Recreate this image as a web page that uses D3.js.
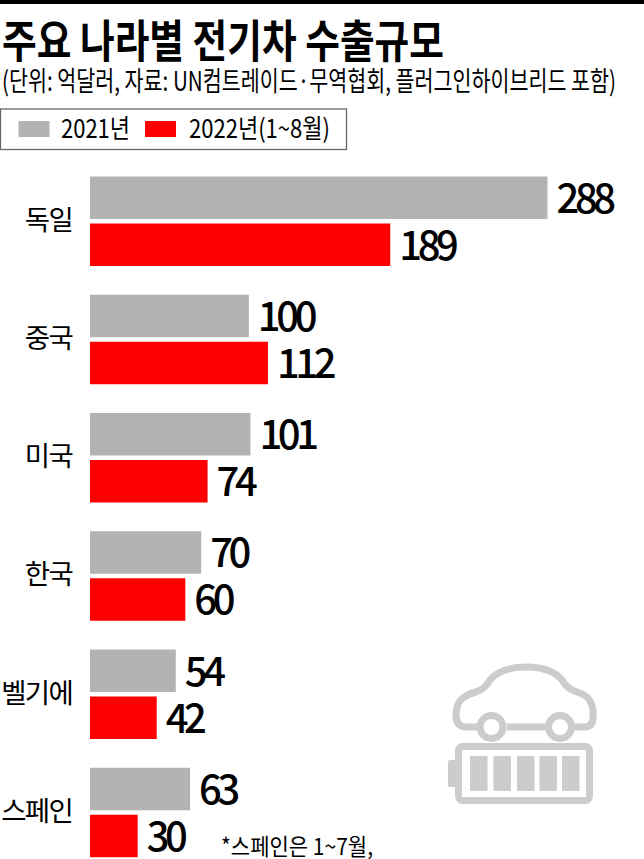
<!DOCTYPE html>
<html><head><meta charset="utf-8">
<style>html,body{margin:0;padding:0;background:#fff}svg{display:block}text{font-family:"Noto Sans CJK KR","Noto Sans",sans-serif;fill:#000}</style>
<script src="https://cdn.jsdelivr.net/npm/d3@7"></script></head><body>
<script>
const categories=["독일","중국","미국","한국","벨기에","스페인"];
const series2021=[288,100,101,70,54,63];
const series2022=[189,112,74,60,42,30];
const seriesNames=["2021년","2022년(1~8월)"];
const colors=["#b3b3b3","#ff0000"];
const title="주요 나라별 전기차 수출규모";
const subtitle="(단위: 억달러, 자료: UN컴트레이드·무역협회, 플러그인하이브리드 포함)";
const footnote="*스페인은 1~7월,";

const svg=d3.select("body").append("svg").attr("width",644).attr("height",859);
const fit=(s,x,y,size,w,weight)=>s.append("text").attr("x",x).attr("y",y).attr("font-size",size)
  .attr("font-weight",weight||400).attr("textLength",w).attr("lengthAdjust","spacingAndGlyphs");

svg.append("rect").attr("width",644).attr("height",4).attr("fill","#000");
fit(svg,2,58,45,442,700).text(title);
fit(svg,2,91,27,614).text(subtitle);

svg.append("rect").attr("x",0.5).attr("y",109).attr("width",346).attr("height",40.5)
  .attr("fill","#fff").attr("stroke","#666").attr("stroke-width",1.3);
const lg=[{x:18.5,tx:61,tw:69},{x:145,tx:189,tw:141}];
lg.forEach((d,i)=>{
  svg.append("rect").attr("x",d.x).attr("y",121).attr("width",31).attr("height",16).attr("fill",colors[i]);
  fit(svg,d.tx,138,26,d.tw).text(seriesNames[i]);
});

const x=d3.scaleLinear().domain([0,288]).range([90,547.5]);
const y=d3.scaleBand().domain(categories).range([176.5,886]);
const g=svg.append("g");
categories.forEach((c,i)=>{
  const top=y(c);
  [series2021[i],series2022[i]].forEach((v,j)=>{
    const by=top+j*47;
    g.append("rect").attr("x",x(0)).attr("y",by).attr("width",x(v)-x(0)).attr("height",42.5).attr("fill",colors[j]);
    g.append("text").attr("x",x(v)+9).attr("y",by+36).attr("font-size",40).attr("font-weight",500)
      .attr("letter-spacing",-4.4).text(v);
  });
  g.append("text").attr("x",72).attr("y",top+53).attr("text-anchor","end").attr("font-size",27.5).attr("letter-spacing",-1.7).text(c);
});
fit(svg,221,855,23,152).text(footnote);

const ic=svg.append("g").attr("fill","none").attr("stroke","#cccccc").attr("stroke-width",7);
ic.append("path").attr("d","M477 727 L465 727 Q456 726 456 715 Q456 703 463 698 Q468 694 476 692 Q485 689 490 680 Q501 667 527 667 Q551 667 562 680 Q567 689 577 692 Q587 695 590 701 Q594 708 593 717 Q593 727 584 727 L573 727 M507 727 L547 727");
ic.append("circle").attr("cx",491.5).attr("cy",727).attr("r",11.5);
ic.append("circle").attr("cx",560).attr("cy",727).attr("r",11.5);
ic.append("rect").attr("x",458.5).attr("y",746.5).attr("width",131).attr("height",54).attr("rx",4);
const cells=[470,493.5,517,539.5,562];
svg.append("g").attr("fill","#cccccc").selectAll("rect").data(cells).join("rect")
  .attr("x",d=>d).attr("y",756).attr("width",17.5).attr("height",35).attr("rx",1);
svg.append("rect").attr("x",448).attr("y",760).attr("width",8).attr("height",27).attr("rx",2).attr("fill","#cccccc");
</script></body></html>
